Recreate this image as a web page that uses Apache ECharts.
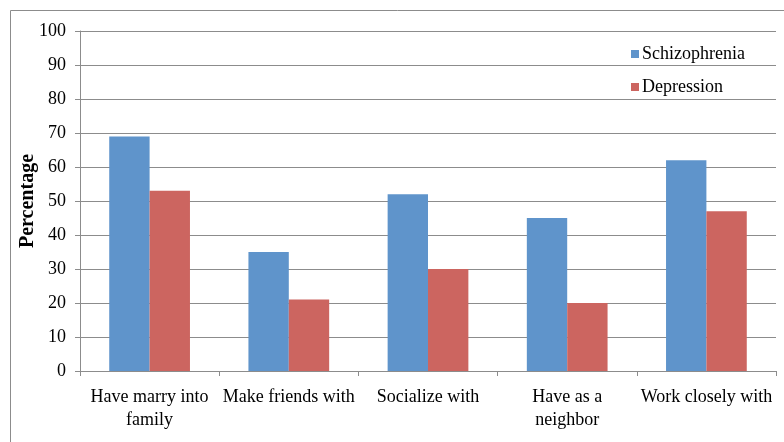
<!DOCTYPE html>
<html>
<head>
<meta charset="UTF-8">
<title>chart</title>
<script src="https://cdn.jsdelivr.net/npm/echarts@6/dist/echarts.min.js"></script>
<style>
  html, body { margin: 0; padding: 0; background: #fff; }
  #chart { width: 784px; height: 442px; }
</style>
</head>
<body>
<div id="chart"></div>
<script>
  const categories = ['Have marry into\nfamily', 'Make friends with', 'Socialize with', 'Have as a\nneighbor', 'Work closely with']
  const schizophrenia = [69, 35, 52, 45, 62]
  const depression = [53, 21, 30, 20, 47]
  const yTicks = { min: 0, max: 100, interval: 10 }

  const font = '"Liberation Serif", "DejaVu Serif", serif'
  const myChart = echarts.init(document.querySelector('#chart'))
  const option = {
    animation: false,
    textStyle: { fontFamily: font },
    graphic: [{
      type: 'rect',
      shape: { x: 10.5, y: 10.5, width: 800, height: 460 },
      style: { fill: 'none', stroke: '#8c8c8c', lineWidth: 1 },
      z: -1
    }],
    grid: { left: 80, right: 8, top: 31, bottom: 71 },
    legend: {
      orient: 'vertical',
      left: 626,
      top: 40,
      itemWidth: 8,
      itemHeight: 8,
      itemGap: 15,
      icon: 'rect',
      textStyle: { fontFamily: font, fontSize: 18, color: '#000', padding: [0, 0, 0, -2] },
      data: ['Schizophrenia', 'Depression']
    },
    xAxis: {
      type: 'category',
      data: categories,
      axisLine: { lineStyle: { color: '#8c8c8c' } },
      axisTick: { show: true, length: 5, lineStyle: { color: '#8c8c8c' } },
      axisLabel: { color: '#000', fontSize: 18, fontFamily: font, margin: 15, lineHeight: 23, interval: 0 }
    },
    yAxis: {
      type: 'value',
      min: yTicks.min,
      max: yTicks.max,
      interval: yTicks.interval,
      name: 'Percentage',
      nameLocation: 'middle',
      nameGap: 42,
      nameMoveOverlap: false,
      nameTextStyle: { fontFamily: font, fontSize: 20, fontWeight: 'bold', color: '#000' },
      axisLine: { show: true, lineStyle: { color: '#8c8c8c' } },
      axisTick: { show: true, length: 5, lineStyle: { color: '#8c8c8c' } },
      axisLabel: { color: '#000', fontSize: 18, fontFamily: font, margin: 14 },
      splitLine: { lineStyle: { color: '#8c8c8c' } }
    },
    series: [
      {
        name: 'Schizophrenia',
        type: 'bar',
        data: schizophrenia,
        barGap: '0%',
        barCategoryGap: '42%',
        itemStyle: { color: '#5f94cb' }
      },
      {
        name: 'Depression',
        type: 'bar',
        data: depression,
        itemStyle: { color: '#cc6560' }
      }
    ]
  }
  myChart.setOption(option)
</script>
</body>
</html>
